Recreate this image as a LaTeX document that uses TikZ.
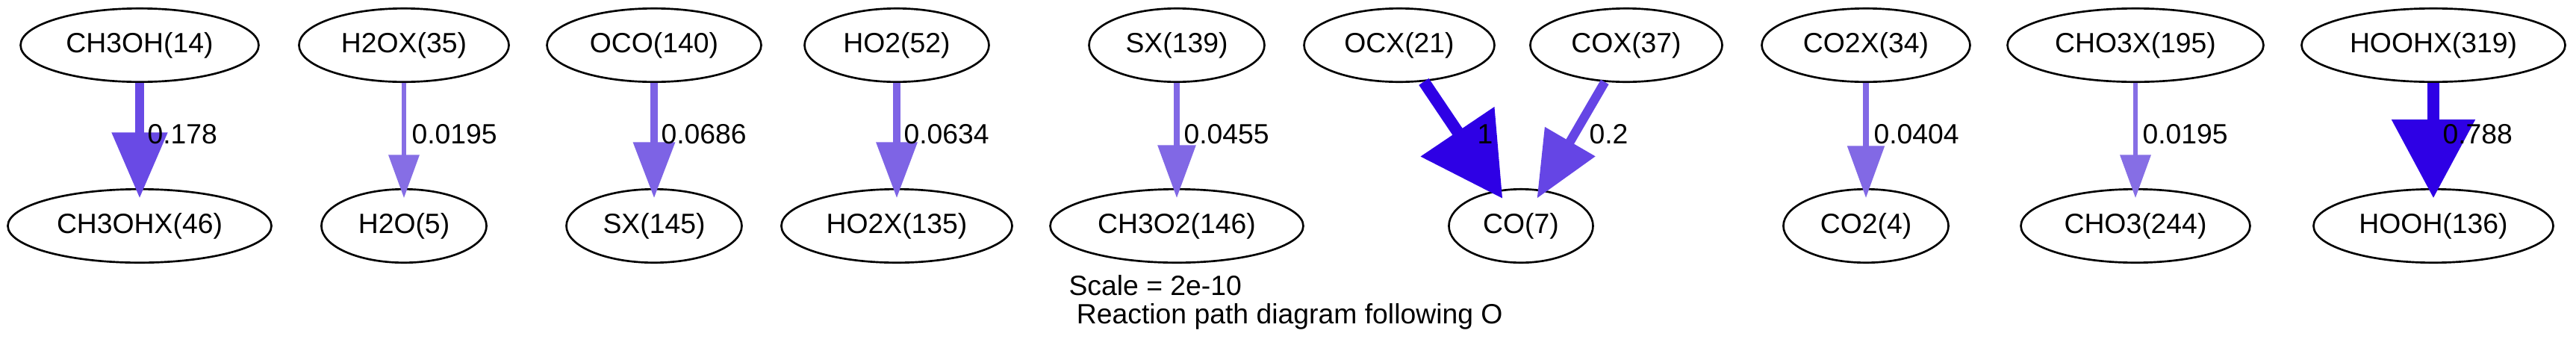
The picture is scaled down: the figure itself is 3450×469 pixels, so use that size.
\documentclass[tikz,border=0pt]{standalone}
\usepackage{fontspec}
\setmainfont{Liberation Sans}
\usetikzlibrary{arrows.meta,shapes.geometric}
\definecolor{fmax}{HTML}{2E00E5}
\definecolor{fa}{HTML}{694AE5}
\definecolor{fb}{HTML}{6545E5}
\definecolor{fc}{HTML}{7D63E5}
\definecolor{fd}{HTML}{7E64E5}
\definecolor{fe}{HTML}{8168E5}
\definecolor{ff}{HTML}{8269E5}
\definecolor{fg}{HTML}{866EE5}
\begin{document}
\begin{tikzpicture}[x=0.375pt,y=-0.375pt,
  species/.style={ellipse,draw=black,line width=1pt,inner sep=0pt,minimum height=36.9pt,
    font=\fontsize{14pt}{16pt}\selectfont},
  flux/.style={shorten >=-5pt},
  flab/.style={anchor=base west,inner sep=0pt,font=\fontsize{14pt}{16pt}\selectfont},
  captext/.style={anchor=base west,inner sep=0pt,font=\fontsize{14pt}{16pt}\selectfont},
]
\useasboundingbox (0,0) rectangle (3450,469);
% top row
\node[species,minimum width=119.6pt] (ch3oh) at (187,60.5) {CH3OH(14)};
\node[species,minimum width=105.4pt] (h2ox)  at (541,60.5) {H2OX(35)};
\node[species,minimum width=107.6pt] (oco)   at (876,60.5) {OCO(140)};
\node[species,minimum width=92.6pt]  (ho2)   at (1201,60.5) {HO2(52)};
\node[species,minimum width=88.1pt]  (sxa)   at (1576,60.5) {SX(139)};
\node[species,minimum width=95.6pt]  (ocx)   at (1874,60.5) {OCX(21)};
\node[species,minimum width=96.4pt]  (cox)   at (2178,60.5) {COX(37)};
\node[species,minimum width=104.6pt] (co2x)  at (2499,60.5) {CO2X(34)};
\node[species,minimum width=128.6pt] (cho3x) at (2860,60.5) {CHO3X(195)};
\node[species,minimum width=132.4pt] (hoohx) at (3259,60.5) {HOOHX(319)};
% bottom row
\node[species,minimum width=132.4pt] (ch3ohx) at (187,302.5) {CH3OHX(46)};
\node[species,minimum width=82.9pt]  (h2o)    at (541,302.5) {H2O(5)};
\node[species,minimum width=88.1pt]  (sxb)    at (876,302.5) {SX(145)};
\node[species,minimum width=115.9pt] (ho2x)   at (1201,302.5) {HO2X(135)};
\node[species,minimum width=127.1pt] (ch3o2)  at (1576,302.5) {CH3O2(146)};
\node[species,minimum width=72.4pt]  (co)     at (2037,302.5) {CO(7)};
\node[species,minimum width=82.9pt]  (co2)    at (2499,302.5) {CO2(4)};
\node[species,minimum width=115.1pt] (cho3)   at (2860,302.5) {CHO3(244)};
\node[species,minimum width=120.4pt] (hooh)   at (3259,302.5) {HOOH(136)};
% connectors
\draw[flux,fa,line width=4.5pt,-{Triangle[length=33pt,width=27pt]}] (ch3oh) -- (ch3ohx);
\draw[flux,fg,line width=2.58pt,-{Triangle[length=21.75pt,width=15pt]}] (h2ox) -- (h2o);
\draw[flux,fc,line width=3.67pt,-{Triangle[length=28.1pt,width=20.25pt]}] (oco) -- (sxb);
\draw[flux,fd,line width=3.6pt,-{Triangle[length=28.1pt,width=19.9pt]}] (ho2) -- (ho2x);
\draw[flux,fe,line width=3.32pt,-{Triangle[length=26.6pt,width=18.4pt]}] (sxa) -- (ch3o2);
\draw[flux,fmax,line width=6pt,-{Triangle[length=40.5pt,width=43.1pt]}] (ocx) -- (co);
\draw[flux,fb,line width=4.6pt,-{Triangle[length=33pt,width=28.1pt]}] (cox) -- (co);
\draw[flux,ff,line width=3.21pt,-{Triangle[length=26.25pt,width=18pt]}] (co2x) -- (co2);
\draw[flux,fg,line width=2.58pt,-{Triangle[length=21.75pt,width=15pt]}] (cho3x) -- (cho3);
\draw[flux,fmax,line width=5.79pt,-{Triangle[length=39.4pt,width=40.5pt]}] (hoohx) -- (hooh);
% flux labels
\node[flab] (la) at (197,192) {0.178};
\node[flab] (lb) at (551,192) {0.0195};
\node[flab] (lc) at (885,192) {0.0686};
\node[flab] (ld) at (1210,192) {0.0634};
\node[flab] (le) at (1585,192) {0.0455};
\node[flab] (lf) at (1978,192) {1};
\node[flab] (lg) at (2128,192) {0.2};
\node[flab] (lh) at (2509,192) {0.0404};
\node[flab] (li) at (2869,192) {0.0195};
\node[flab] (lj) at (3271,192) {0.788};
% caption
\node[captext] (scale) at (1431,395) {Scale = 2e-10};
\node[captext] (title) at (1431,433) {\ Reaction path diagram following O};
\end{tikzpicture}
\end{document}
